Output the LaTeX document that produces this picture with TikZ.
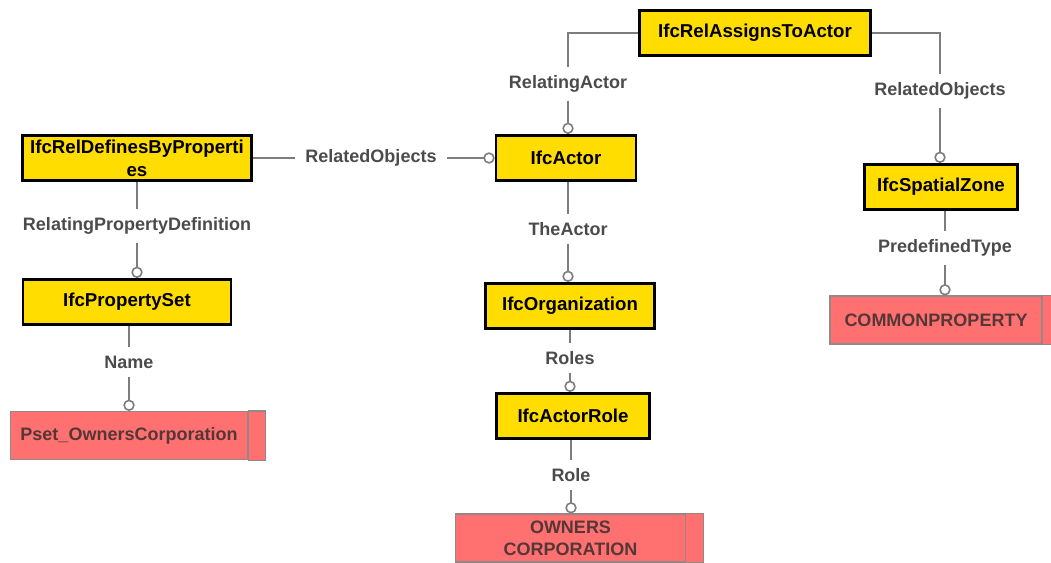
\documentclass[tikz,border=0pt]{standalone}
\usepackage{fontspec}
\setmainfont{Liberation Sans}
\usetikzlibrary{arrows.meta}

\definecolor{ifcyellow}{RGB}{255,221,0}
\definecolor{enumred}{RGB}{255,112,112}
\definecolor{enumline}{RGB}{150,135,135}
\definecolor{enumtext}{RGB}{85,55,55}
\definecolor{linkgray}{RGB}{125,125,125}
\definecolor{labelgray}{RGB}{75,75,75}

\begin{document}
\begin{tikzpicture}[x=0.75pt, y=-0.75pt,
    entity/.style={draw=black, line width=2pt, fill=ifcyellow, minimum height=34pt,
        align=center, inner sep=2pt, font=\fontsize{14}{17}\selectfont\bfseries},
    enumval/.style={draw=enumline, line width=0.8pt, fill=enumred, minimum height=36pt,
        align=center, inner sep=2pt, text=enumtext, font=\fontsize{13.5}{16.5}\selectfont\bfseries},
    attr/.style={text=labelgray, inner xsep=8pt, inner ysep=6pt, font=\fontsize{13.5}{16}\selectfont\bfseries},
    link/.style={draw=linkgray, line width=1.5pt},
    ring/.style={link, -{Circle[open, length=8.5pt, line width=1.2pt]}}]
    \useasboundingbox (0,0) rectangle (1051,563);

    % ifc entities
    \node[entity, minimum width=173pt] (assign) at (755,33) {IfcRelAssignsToActor};
    \node[entity, minimum width=172pt] (defines) at (137,158) {IfcRelDefinesByProperti\\es};
    \node[entity, minimum width=105pt] (actor) at (566,158) {IfcActor};
    \node[entity, minimum width=115pt] (zone) at (941,187) {IfcSpatialZone};
    \node[entity, minimum width=156pt] (pset) at (127,302) {IfcPropertySet};
    \node[entity, minimum width=127pt] (org) at (570,306) {IfcOrganization};
    \node[entity, minimum width=115pt] (role) at (573,416) {IfcActorRole};

    % values
    \node[enumval, minimum width=178pt] (psetname) at (129,435.5) {Pset\_OwnersCorporation};
    \node[enumval, minimum width=172pt] (owners) at (570.5,538) {OWNERS\\CORPORATION};
    \node[enumval, minimum width=159pt] (common) at (936,320) {COMMONPROPERTY};
    \foreach \n in {psetname, owners, common}
        \draw[draw=enumline, line width=0.8pt, fill=enumred] (\n.north east) rectangle ([xshift=13pt]\n.south east);

    % attribute names
    \node[attr] (relActor) at (568,84) {RelatingActor};
    \node[attr] (relObjZone) at (940,91) {RelatedObjects};
    \node[attr] (relObjDef) at (371,158) {RelatedObjects};
    \node[attr] (relPropDef) at (137,226) {RelatingPropertyDefinition};
    \node[attr] (name) at (129,362) {Name};
    \node[attr] (theActor) at (568,229) {TheActor};
    \node[attr] (roles) at (570,358) {Roles};
    \node[attr] (roleAttr) at (571,475) {Role};
    \node[attr] (predef) at (945,248) {PredefinedType};

    % connectors
    \draw[link] (assign.west) -| (relActor);
    \draw[ring] (relActor) -- (relActor |- actor.north);
    \draw[link] (assign.east) -| (relObjZone);
    \draw[ring] (relObjZone) -- (relObjZone |- zone.north);
    \draw[link] (defines.east) -- (relObjDef);
    \draw[ring] (relObjDef) -- (actor.west);
    \draw[link] (defines.south) -- (relPropDef);
    \draw[ring] (relPropDef) -- (relPropDef |- pset.north);
    \draw[link] (name |- pset.south) -- (name);
    \draw[ring] (name) -- (name |- psetname.north);
    \draw[link] (theActor |- actor.south) -- (theActor);
    \draw[ring] (theActor) -- (theActor |- org.north);
    \draw[link] (roles |- org.south) -- (roles);
    \draw[ring] (roles) -- (roles |- role.north);
    \draw[link] (roleAttr |- role.south) -- (roleAttr);
    \draw[ring] (roleAttr) -- (roleAttr |- owners.north);
    \draw[link] (predef |- zone.south) -- (predef);
    \draw[ring] (predef) -- (predef |- common.north);
\end{tikzpicture}
\end{document}
